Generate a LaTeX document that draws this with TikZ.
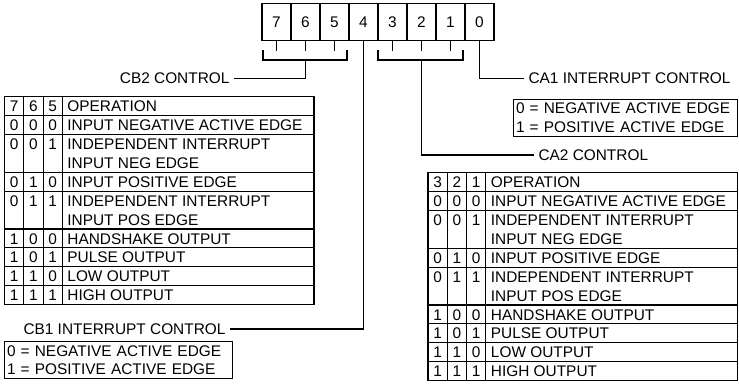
\documentclass[tikz,border=0pt]{standalone}
\usepackage{fontspec}
\setmainfont{Liberation Sans}
\newcommand\lblfont{\fontsize{15.4bp}{18.5bp}\selectfont}
\newcommand\optable[4]{%
\begin{scope}[shift={(#2,#3)}]
\draw (0,0) rectangle (309.5,207.9);
\foreach \cx in {19.3,38.6,57.9} \draw (\cx,0) -- (\cx,207.9);
\foreach \k in {1,2,4,5,7,8,9,10} \draw (0,\k*18.9) -- (309.5,\k*18.9);
\foreach \k/\a/\b/\c/\t in {0/#4/OPERATION, 1/0/0/0/INPUT NEGATIVE ACTIVE EDGE, 2/0/0/1/INDEPENDENT INTERRUPT, 4/0/1/0/INPUT POSITIVE EDGE, 5/0/1/1/INDEPENDENT INTERRUPT, 7/1/0/0/HANDSHAKE OUTPUT, 8/1/0/1/PULSE OUTPUT, 9/1/1/0/LOW OUTPUT, 10/1/1/1/HIGH OUTPUT}{
  \node[dig] (#1-\k-a) at (9.65,\k*18.9+15) {\a};
  \node[dig] (#1-\k-b) at (28.95,\k*18.9+15) {\b};
  \node[dig] (#1-\k-c) at (48.25,\k*18.9+15) {\c};
  \node[txt] (#1-\k-t) at (62.4,\k*18.9+15) {\t};
}
\node[txt] (#1-3-t) at (62.4,3*18.9+15) {INPUT NEG EDGE};
\node[txt] (#1-6-t) at (62.4,6*18.9+15) {INPUT POS EDGE};
\end{scope}}
\begin{document}
\begin{tikzpicture}[x=1bp,y=-1bp,line width=1.1bp,
  dig/.style={font=\lblfont, inner sep=0pt, anchor=base},
  txt/.style={font=\lblfont, inner sep=0pt, anchor=base west},
  lbl/.style={font=\lblfont, inner xsep=4bp, inner ysep=0pt},
  cell/.style={draw, font=\lblfont, minimum width=29bp, minimum height=37bp, inner sep=0pt},
  box/.style={draw, font=\lblfont, align=left, inner xsep=2.5bp, inner ysep=0pt, text width=219bp, minimum height=37bp, anchor=north west}]
\useasboundingbox (0,0) rectangle (739,387);
% register
\foreach \b [count=\i from 0] in {7,6,5,4,3,2,1,0}
  \node[cell] (r\b) at ({276.5+29*\i},22) {\b};
\foreach \b in {7,6,5,3,2,1} \draw (r\b.south) -- ++(0,9.5);
% brackets
\coordinate (b2L) at (263,50); \coordinate (b2R) at (347,50); \coordinate (b2M) at (305.5,60);
\coordinate (b1L) at (378,50); \coordinate (b1R) at (463,50); \coordinate (b1M) at (421.5,60);
\draw (b2L) -- ++(0,10) -| (b2R);
\draw (b1L) -- ++(0,10) -| (b1R);
% labels
\node[lbl, anchor=east] (cb2) at (234,78.5) {CB2 CONTROL};
\node[lbl, anchor=east] (cb1) at (230,329) {CB1 INTERRUPT CONTROL};
\node[lbl, anchor=west] (ca1) at (524,78.5) {CA1 INTERRUPT CONTROL};
\node[lbl, anchor=west] (ca2) at (534,155) {CA2 CONTROL};
\draw (b2M) |- (cb2.east);
\draw (r4.south) |- (cb1.east);
\draw (r0.south) |- (ca1.west);
\draw (b1M) |- (ca2.west);
% boxes
\node[box] (ca1box) at (513,98.5) {0 = NEGATIVE ACTIVE EDGE\\1 = POSITIVE ACTIVE EDGE};
\node[box, text width=223bp] (cb1box) at (4,341) {0 = NEGATIVE ACTIVE EDGE\\1 = POSITIVE ACTIVE EDGE};
% tables
\optable{L}{4.5}{96.7}{7/6/5}
\optable{R}{428}{172.7}{3/2/1}
\end{tikzpicture}
\end{document}
